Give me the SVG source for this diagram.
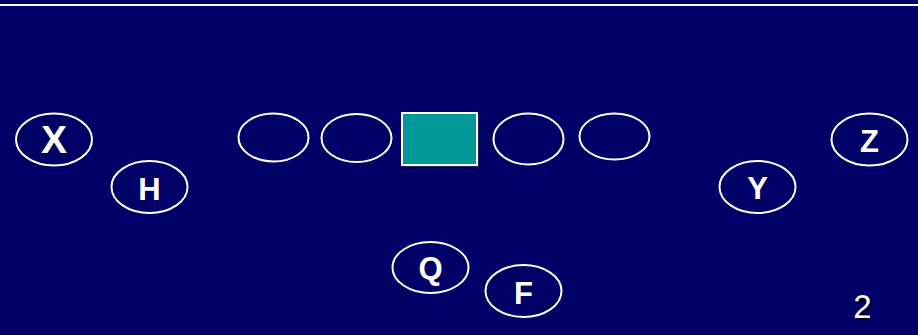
<svg xmlns="http://www.w3.org/2000/svg" width="918" height="335" viewBox="0 0 918 335">
<defs>
<filter id="sh" x="-20%" y="-20%" width="160%" height="160%"><feDropShadow dx="2" dy="2" stdDeviation="0.6" flood-color="#000011" flood-opacity="0.9"/></filter>
</defs>
<style>
.p{fill:none;stroke:#fff;stroke-width:2}
.t{fill:#fff;font-family:"Liberation Sans",Arial,sans-serif;font-weight:bold;font-size:31px;text-anchor:middle}
.n{fill:#fff;font-family:"Liberation Sans",Arial,sans-serif;font-size:33px;text-anchor:middle}
</style>
<rect width="918" height="335" fill="#000066"/>
<rect x="0" y="4" width="918" height="2" fill="#fff"/>
<g id="connectors"/>
<g id="X"><ellipse class="p" cx="54" cy="139.5" rx="38" ry="26"/><text class="t" x="54" y="153" style="font-size:39px">X</text></g>
<g id="H"><ellipse class="p" cx="149.5" cy="187" rx="38" ry="26"/><text class="t" x="149.5" y="200">H</text></g>
<g id="OL1"><ellipse class="p" cx="273.5" cy="137.5" rx="35" ry="24"/></g>
<g id="OL2"><ellipse class="p" cx="356.5" cy="138" rx="35" ry="24"/></g>
<g id="C"><rect x="404" y="115" width="75" height="52" fill="#333366" opacity="0.6"/><rect x="402" y="113" width="75" height="52" fill="#009999" stroke="#fff" stroke-width="2"/></g>
<g id="OL3"><ellipse class="p" cx="528.5" cy="139" rx="35" ry="25.5"/></g>
<g id="OL4"><ellipse class="p" cx="614.5" cy="136.5" rx="35" ry="23"/></g>
<g id="Q"><ellipse class="p" cx="430.5" cy="267.5" rx="38" ry="25.5"/><text class="t" x="430.5" y="279">Q</text></g>
<g id="F"><ellipse class="p" cx="523.5" cy="291" rx="38" ry="26"/><text class="t" x="523.5" y="304">F</text></g>
<g id="Z"><ellipse class="p" cx="869.5" cy="139.5" rx="38" ry="26"/><text class="t" x="869.5" y="152">Z</text></g>
<g id="Y"><ellipse class="p" cx="757.5" cy="187" rx="38" ry="26"/><text class="t" x="757.5" y="199">Y</text></g>
<text class="n" x="862.5" y="318" filter="url(#sh)">2</text>
</svg>
